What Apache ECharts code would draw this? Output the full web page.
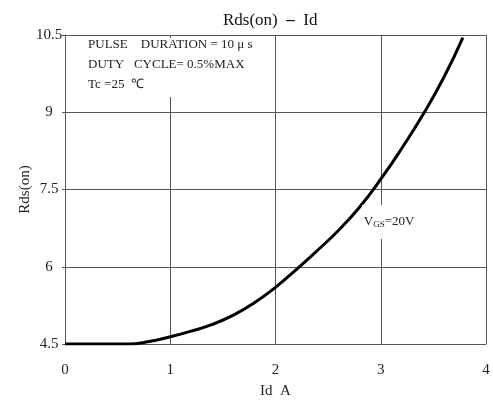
<!DOCTYPE html>
<html><head><meta charset="utf-8">
<script src="https://cdn.jsdelivr.net/npm/echarts@6/dist/echarts.min.js"></script>
<style>html,body{margin:0;padding:0;background:#fff}#c{width:493px;height:401px}</style>
</head><body><div id="c"></div>
<script>
const idValues = [0, 0.2, 0.4, 0.6, 0.8, 1.0, 1.2, 1.4, 1.6, 1.8, 2.0, 2.2, 2.4, 2.6, 2.8, 3.0, 3.2, 3.4, 3.6, 3.78];
const rdsValues = [4.5, 4.5, 4.5, 4.5, 4.55, 4.64, 4.75, 4.88, 5.06, 5.3, 5.6, 5.95, 6.32, 6.71, 7.16, 7.7, 8.3, 8.95, 9.68, 10.45];
const xTicks = [0, 1, 2, 3, 4];
const yTicks = [4.5, 6, 7.5, 9, 10.5];
const titleText = 'Rds(on)  {b|\u2013}  Id';
const noteLines = ['PULSE    DURATION = 10 \u03bc s', 'DUTY   CYCLE= 0.5%MAX', 'Tc =25  \u2103'];
const curveLabel = 'V{sub|GS}=20V';

const FONT = 'Liberation Serif';
const chart = echarts.init(document.getElementById('c'));
const data = idValues.map((x, i) => [x, rdsValues[i]]);
chart.setOption({
  backgroundColor: '#fff',
  animation: false,
  title: { text: titleText, left: 218, top: 7,
    textStyle: { fontFamily: FONT, fontSize: 17, fontWeight: 'normal', color: '#111',
      rich: { b: { fontFamily: FONT, fontSize: 17, fontWeight: 'bold', color: '#111' } } } },
  grid: { left: 65, right: 7, top: 35, bottom: 57, outerBoundsMode: 'none', containLabel: false },
  xAxis: {
    type: 'value', min: xTicks[0], max: xTicks[xTicks.length-1], interval: 1,
    name: 'Id  A', nameLocation: 'middle', nameGap: 40, nameMoveOverlap: false,
    nameTextStyle: { fontFamily: FONT, fontSize: 15, color: '#222' },
    axisLine: { show: true, lineStyle: { color: '#555', width: 1 } },
    axisTick: { show: false },
    axisLabel: { fontFamily: FONT, fontSize: 15, color: '#222', margin: 19 },
    splitLine: { show: true, lineStyle: { color: '#555', width: 1 } }
  },
  yAxis: {
    type: 'value', min: yTicks[0], max: yTicks[yTicks.length-1], interval: 1.5,
    name: 'Rds(on)', nameLocation: 'middle', nameGap: 32, nameMoveOverlap: false,
    nameTextStyle: { fontFamily: FONT, fontSize: 15, color: '#222' },
    axisLine: { show: true, lineStyle: { color: '#555', width: 1 } },
    axisTick: { show: true, length: 3, inside: false, lineStyle: { color: '#555' } },
    axisLabel: { fontFamily: FONT, fontSize: 15, color: '#222', margin: 16, align: 'center' },
    splitLine: { show: true, lineStyle: { color: '#555', width: 1 } }
  },
  series: [{
    type: 'line', data: data, smooth: 0.5, showSymbol: false, z: 2,
    lineStyle: { color: '#000', width: 3 }
  }]
});

function place() {
  const top = chart.convertToPixel({gridIndex: 0}, [0.2, 10.5]);
  const p2 = chart.convertToPixel({gridIndex: 0}, [2.82, 7.2]);
  chart.setOption({
    graphic: [
      { type: 'rect', z: 9, shape: { x: top[0], y: top[1] + 3, width: 175, height: 59 },
        style: { fill: '#fff' } },
      { type: 'text', left: top[0] + 2, top: top[1], z: 10,
        style: { text: noteLines.join('\n'), font: '13px ' + FONT, fill: '#222', lineHeight: 20 } },
      { type: 'text', left: p2[0], top: p2[1], z: 10,
        style: { text: curveLabel, font: '13px ' + FONT, fill: '#222', backgroundColor: '#fff', padding: [10, 2, 10, 2],
                 rich: { sub: { fontSize: 9, fontFamily: FONT, fill: '#222', padding: [5, 0, 0, 0] } } } }
    ]
  });
}
place();
</script></body></html>
